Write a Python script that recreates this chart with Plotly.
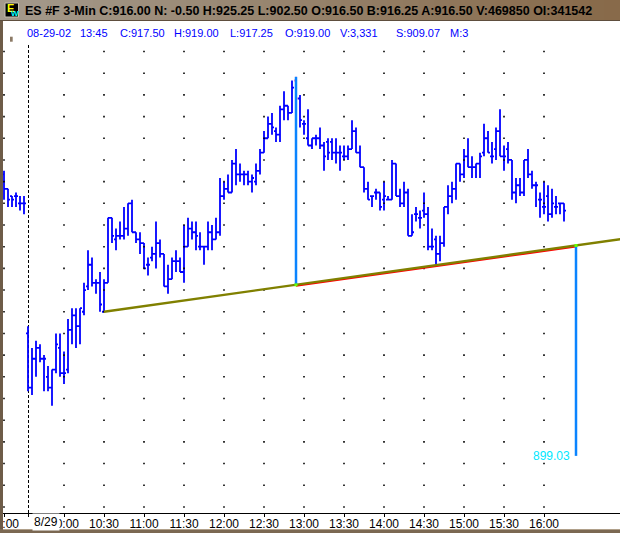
import plotly.graph_objects as go
import numpy as np

# ---------------- DATA ----------------
# tail of prior session (8/28), 3-min bars
prev_times = ["16:00", "16:03", "16:06", "16:09", "16:12", "16:15"]
prev_open  = [918.50, 917.50, 917.00, 917.00, 916.50, 916.50]
prev_high  = [918.75, 917.50, 917.00, 917.25, 917.00, 917.00]
prev_low   = [916.75, 916.25, 916.25, 916.25, 916.00, 915.75]
prev_close = [917.50, 916.75, 916.75, 917.00, 916.50, 916.50]

# 8/29 session, 3-min bars starting 09:33
today_open = [907.50, 903.75, 905.75, 906.50, 905.75, 904.50, 903.75, 905.00, 906.50, 904.75,
              905.00, 907.75, 908.75, 908.00, 909.00, 910.75, 912.25, 911.00, 911.00, 909.00,
              911.00, 915.50, 914.00, 914.25, 914.25, 914.75, 916.50, 914.50, 914.00, 913.75,
              912.25, 912.75, 913.00, 913.75, 913.00, 910.75, 911.25, 912.50, 912.50, 911.75,
              913.50, 914.75, 914.50, 913.50, 913.50, 913.50, 914.50, 914.00, 914.50, 917.00,
              917.50, 917.25, 919.25, 918.50, 918.50, 918.50, 918.00, 918.00, 918.75, 920.00,
              921.00, 922.00, 921.50, 921.25, 923.00, 923.25, 922.75, 925.00, 923.75, 922.00,
              921.00, 920.50, 921.00, 921.00, 920.50, 920.75, 920.75, 920.00, 920.00, 919.75,
              919.75, 920.25, 921.50, 920.00, 919.00, 917.50, 917.00, 917.25, 917.25, 916.75,
              916.75, 916.75, 919.25, 917.00, 916.50, 917.25, 914.25, 915.75, 915.50, 916.00,
              915.75, 913.50, 914.00, 913.00, 913.75, 916.25, 917.00, 917.50, 919.25, 918.50,
              919.75, 919.00, 919.00, 919.25, 920.00, 921.00, 919.75, 920.25, 921.50, 919.75,
              920.25, 919.50, 917.25, 917.75, 917.25, 919.50, 918.50, 917.75, 916.75, 916.25,
              917.00, 915.75, 916.25, 916.50, 916.50]
today_high = [908.00, 906.50, 907.00, 906.75, 906.00, 905.25, 905.00, 907.50, 907.50, 906.25,
              908.50, 909.25, 909.25, 909.25, 911.00, 913.25, 912.75, 911.25, 911.75, 911.25,
              915.50, 915.50, 914.75, 915.25, 916.25, 916.50, 916.75, 914.50, 914.50, 913.75,
              912.75, 913.50, 915.25, 914.00, 913.00, 912.25, 912.75, 913.25, 912.75, 915.00,
              915.50, 915.25, 915.25, 914.50, 913.50, 915.25, 915.00, 915.50, 918.25, 918.00,
              918.50, 919.50, 920.25, 919.25, 918.75, 918.75, 918.50, 919.25, 920.25, 921.50,
              922.50, 922.75, 921.75, 923.25, 924.25, 923.25, 925.00, 925.25, 924.00, 922.25,
              923.00, 921.00, 921.25, 921.75, 920.75, 921.00, 921.00, 921.00, 920.50, 920.50,
              920.50, 922.25, 921.75, 920.50, 919.00, 918.00, 917.00, 917.50, 917.25, 918.00,
              917.00, 919.50, 919.25, 917.50, 918.00, 917.50, 915.75, 916.25, 916.00, 917.25,
              916.25, 914.75, 914.25, 914.25, 916.25, 917.75, 918.00, 919.25, 919.25, 920.25,
              921.00, 919.75, 919.25, 920.00, 922.00, 921.50, 920.75, 921.75, 923.00, 920.50,
              920.75, 919.50, 918.25, 918.25, 919.50, 920.25, 918.75, 918.00, 917.25, 918.00,
              917.75, 917.50, 917.00, 916.50, 916.50]
today_low  = [903.50, 903.25, 904.50, 905.50, 903.50, 903.50, 902.50, 904.75, 904.50, 904.00,
              904.75, 906.75, 906.50, 906.75, 908.75, 910.50, 910.75, 910.25, 909.00, 909.00,
              911.00, 913.75, 913.25, 914.00, 914.00, 914.25, 914.50, 913.75, 913.00, 912.00,
              911.50, 912.50, 912.00, 912.75, 910.75, 910.25, 911.25, 911.75, 911.75, 911.00,
              913.50, 914.00, 913.25, 913.25, 912.25, 913.25, 913.25, 914.00, 914.25, 916.75,
              917.25, 917.25, 917.75, 918.00, 917.75, 917.75, 917.25, 917.75, 918.50, 920.00,
              921.00, 921.25, 920.75, 920.75, 922.25, 922.25, 922.75, 923.75, 921.75, 921.25,
              920.50, 920.25, 920.50, 920.25, 918.75, 919.50, 919.50, 919.25, 918.75, 919.50,
              919.50, 920.25, 920.00, 919.00, 917.25, 916.75, 916.25, 916.75, 916.00, 916.00,
              916.75, 916.75, 917.00, 916.25, 916.25, 914.25, 914.25, 915.25, 914.75, 915.50,
              913.25, 913.25, 912.25, 912.50, 913.50, 915.75, 916.50, 916.75, 918.00, 918.25,
              919.00, 918.25, 918.25, 918.25, 919.75, 920.00, 919.25, 919.50, 919.75, 918.75,
              919.25, 916.75, 916.50, 917.00, 917.00, 918.25, 917.50, 916.25, 915.50, 915.75,
              915.25, 915.50, 915.75, 915.75, 915.25]
today_close = [903.75, 905.75, 906.50, 905.75, 905.75, 903.75, 905.00, 906.75, 904.75, 904.75,
               907.75, 908.75, 908.00, 909.25, 910.50, 912.25, 911.00, 911.00, 909.50, 911.00,
               915.50, 914.25, 914.25, 914.25, 914.75, 916.50, 914.50, 914.00, 913.75, 912.00,
               912.25, 913.00, 913.75, 913.00, 910.75, 911.25, 912.50, 912.50, 911.75, 913.50,
               914.75, 914.50, 914.25, 913.50, 913.50, 914.50, 914.00, 914.50, 917.00, 917.50,
               917.25, 919.25, 918.50, 918.50, 918.50, 918.00, 918.25, 918.75, 920.00, 921.00,
               922.00, 921.75, 921.25, 923.00, 923.25, 922.75, 924.50, 923.75, 922.25, 922.00,
               920.50, 921.00, 921.00, 920.50, 919.75, 920.00, 920.00, 920.00, 920.00, 919.75,
               920.25, 921.50, 920.00, 919.00, 917.50, 916.75, 917.00, 917.25, 916.25, 917.00,
               916.75, 919.25, 917.00, 916.50, 917.25, 914.25, 914.50, 915.75, 915.50, 915.75,
               913.50, 913.50, 913.00, 913.75, 916.25, 917.00, 917.50, 919.25, 918.50, 919.75,
               919.00, 919.00, 919.25, 919.75, 921.00, 920.00, 919.75, 921.50, 919.75, 919.75,
               919.50, 917.25, 917.75, 917.25, 919.50, 918.50, 917.75, 917.75, 916.75, 916.25,
               915.75, 916.50, 916.25, 916.50, 916.00]

highlight_time = "12:54"          # bar drawn in pink (pattern high)
tick_times = ["10:00", "10:30", "11:00", "11:30", "12:00", "12:30", "13:00",
              "13:30", "14:00", "14:30", "15:00", "15:30", "16:00"]
date_label = "8/29"

# neckline (bar index, price) and head-and-shoulders measured move
neck_x = [19, 160]
neck_y = [909.00, 914.48]
red_x = [67, 137]
red_y = [910.79, 913.51]
measure_x = [67, 137]
measure_top = [925.25, 913.58]
measure_bottom = [910.86, 899.03]
target_text = "899.03"

title_text = ("ES #F 3-Min C:916.00 N: -0.50 H:925.25 L:902.50 O:916.50 "
              "B:916.25 A:916.50 V:469850 OI:341542")
info_texts = ["08-29-02", "13:45", "C:917.50", "H:919.00", "L:917.25",
              "O:919.00", "V:3,331", "S:909.07", "M:3"]

# ---------------- LAYOUT GEOMETRY ----------------
W, H = 620, 533
T, B = 44, 513
PH = B - T


def px(x):
    return x / W


def py(y):
    return (B - y) / PH


info_left = [25.7, 79, 118.6, 173, 229, 284, 339, 394.5, 449]

# ---------------- X POSITIONS ----------------
n_prev = len(prev_open)
n_today = len(today_open)
prev_x = list(range(-n_prev, 0))
today_times = []
for i in range(n_today):
    m = 9 * 60 + 33 + 3 * i
    today_times.append(f"{m // 60:02d}:{m % 60:02d}")
today_x = list(range(n_today))

hi_idx = today_times.index(highlight_time)

tickvals = [prev_x[prev_times.index("16:00")], 0] + [today_times.index(t) for t in tick_times]
ticktext = ["16:00", ""] + tick_times

fig = go.Figure()

# dotted grid (dots at intersections)
grid_cols = [tickvals[0]] + tickvals[2:]
y_lo, y_hi = 895.08, 927.52
grid_rows = np.arange(895.5, 927.01, 1.5)
gx, gy = [], []
for c in grid_cols:
    for r in grid_rows:
        gx.append(c)
        gy.append(r)
fig.add_trace(go.Scatter(x=gx, y=gy, mode="markers",
                         marker=dict(symbol="square", size=1.6, color="#000000", line=dict(width=0)),
                         hoverinfo="skip", showlegend=False))

all_x = prev_x + today_x
all_o = prev_open + today_open
all_h = prev_high + today_high
all_l = prev_low + today_low
all_c = prev_close + today_close
hi_all = n_prev + hi_idx

mask = [i for i in range(len(all_x)) if i != hi_all]
blue = dict(line=dict(color="#0000ff", width=1.8))
fig.add_trace(go.Ohlc(x=[all_x[i] for i in mask], open=[all_o[i] for i in mask],
                      high=[all_h[i] for i in mask], low=[all_l[i] for i in mask],
                      close=[all_c[i] for i in mask],
                      increasing=blue, decreasing=blue, tickwidth=0.5,
                      showlegend=False, hoverinfo="skip"))
pink = dict(line=dict(color="#ff7fd0", width=2))
fig.add_trace(go.Ohlc(x=[all_x[hi_all]], open=[all_o[hi_all]], high=[all_h[hi_all]],
                      low=[all_l[hi_all]], close=[all_c[hi_all]],
                      increasing=pink, decreasing=pink, tickwidth=0.5,
                      showlegend=False, hoverinfo="skip"))

# red projected neckline under the olive one
fig.add_trace(go.Scatter(x=red_x, y=red_y, mode="lines",
                         line=dict(color="#ff0000", width=2), hoverinfo="skip", showlegend=False))
# neckline
fig.add_trace(go.Scatter(x=neck_x, y=neck_y, mode="lines",
                         line=dict(color="#808000", width=2.3), hoverinfo="skip", showlegend=False))
# measured move lines
mx, my = [], []
for xv, t0, b0 in zip(measure_x, measure_top, measure_bottom):
    mx += [xv, xv, None]
    my += [t0, b0, None]
fig.add_trace(go.Scatter(x=mx, y=my, mode="lines",
                         line=dict(color="#0a84ff", width=2.5), hoverinfo="skip", showlegend=False))
fig.add_trace(go.Scatter(x=[measure_x[0], measure_x[1]], y=[measure_bottom[0], measure_top[1]],
                         mode="markers", marker=dict(symbol="square", size=3, color="#66ff00"),
                         hoverinfo="skip", showlegend=False))

shapes = []
# day separator (half-pixel offset keeps the 1px dashes crisp)
shapes.append(dict(type="line", xref="x", yref="paper", x0=0.125, x1=0.125, y0=0, y1=1,
                   line=dict(color="#000000", width=1, dash="3px,2px"), layer="below"))
# title bar gradient
c0 = np.array([164, 154, 140])
c1 = np.array([136, 106, 74])
nseg = 40
for k in range(nseg):
    f = k / (nseg - 1)
    c = (c0 * (1 - f) + c1 * f).astype(int)
    shapes.append(dict(type="rect", xref="paper", yref="paper",
                       x0=px(k * W / nseg), x1=px((k + 1) * W / nseg + 1),
                       y0=py(20), y1=py(0), line=dict(width=0),
                       fillcolor=f"rgb({c[0]},{c[1]},{c[2]})", layer="above"))
shapes.append(dict(type="line", xref="paper", yref="paper", x0=0, x1=1,
                   y0=py(20.5), y1=py(20.5), line=dict(color="#5e4e3e", width=1), layer="above"))
# icon
shapes.append(dict(type="rect", xref="paper", yref="paper", x0=px(5), x1=px(18.5),
                   y0=py(17), y1=py(3), fillcolor="#000000", line=dict(color="#c8c0b0", width=1),
                   layer="above"))
# window frame
shapes.append(dict(type="rect", xref="paper", yref="paper", x0=px(0), x1=px(3),
                   y0=py(533), y1=py(21), fillcolor="#6e5c48", line=dict(width=0), layer="above"))
shapes.append(dict(type="rect", xref="paper", yref="paper", x0=px(0), x1=px(620),
                   y0=py(533), y1=py(529), fillcolor="#7b6852", line=dict(width=0), layer="above"))
shapes.append(dict(type="line", xref="paper", yref="paper", x0=px(3), x1=px(620),
                   y0=py(529.5), y1=py(529.5), line=dict(color="#b0a08a", width=1), layer="above"))
# small marker at left of info line
shapes.append(dict(type="rect", xref="paper", yref="paper", x0=px(10), x1=px(12.7),
                   y0=py(41.7), y1=py(36.7), fillcolor="#8c7a66", line=dict(width=0), layer="above"))

annotations = []
annotations.append(dict(text=f"<b>{title_text}</b>", xref="paper", yref="paper",
                        x=px(23), y=py(11.5), xanchor="left", yanchor="middle", showarrow=False,
                        font=dict(family="Liberation Sans", size=12.5, color="#000000")))
annotations.append(dict(text="<b>E</b>", xref="paper", yref="paper", x=px(10), y=py(8.5),
                        xanchor="center", yanchor="middle", showarrow=False,
                        font=dict(family="Liberation Sans", size=11, color="#ffff00")))
annotations.append(dict(text="<b>W</b>", xref="paper", yref="paper", x=px(14.5), y=py(13),
                        xanchor="center", yanchor="middle", showarrow=False,
                        font=dict(family="Liberation Sans", size=8, color="#00ffff")))
for t, xl in zip(info_texts, info_left):
    annotations.append(dict(text=t, xref="paper", yref="paper", x=px(xl - 1), y=py(33.3),
                            xanchor="left", yanchor="middle", showarrow=False,
                            font=dict(family="Liberation Sans", size=11, color="#0000ff")))
annotations.append(dict(text=date_label, xref="x", yref="paper", x=0, y=py(521.5),
                        xanchor="left", yanchor="middle", xshift=4, showarrow=False,
                        bgcolor="#ffffff", borderpad=1,
                        font=dict(family="Liberation Sans", size=12, color="#000000")))
annotations.append(dict(text=target_text, xref="x", yref="y", x=measure_x[1],
                        y=measure_bottom[1], xanchor="right", yanchor="middle", xshift=-4,
                        showarrow=False,
                        font=dict(family="Liberation Sans", size=12, color="#00e8ff")))

fig.update_layout(
    width=W, height=H, autosize=False,
    margin=dict(l=0, r=0, t=T, b=H - B, pad=0, autoexpand=False),
    paper_bgcolor="#ffffff", plot_bgcolor="#ffffff",
    showlegend=False,
    shapes=shapes, annotations=annotations,
    xaxis=dict(type="linear", range=[-7, 148], showgrid=False, zeroline=False,
               automargin=False,
               showline=True, linecolor="#000000", linewidth=1,
               ticks="outside", ticklen=3, tickcolor="#000000", tickwidth=1,
               tickvals=tickvals, ticktext=ticktext, ticklabeloverflow="allow",
               ticklabelstandoff=-3,
               tickfont=dict(family="Liberation Sans", size=12, color="#000000"),
               rangeslider=dict(visible=False), fixedrange=True),
    yaxis=dict(range=[y_lo, y_hi], visible=False, showgrid=False, zeroline=False,
               automargin=False, fixedrange=True),
)

fig.write_html("out.html", config={"displayModeBar": False},
               post_script="document.body.style.margin='0';document.body.style.padding='0';")
